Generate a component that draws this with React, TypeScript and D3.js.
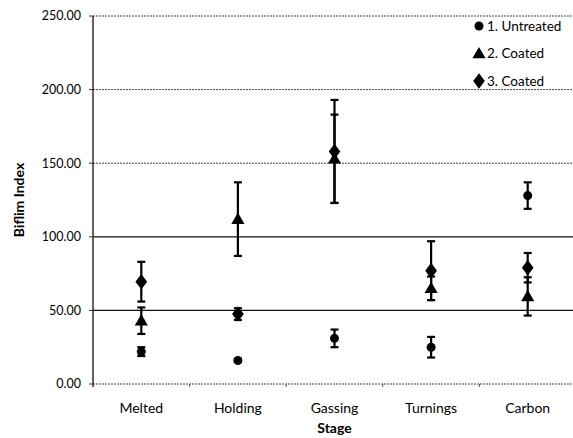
import React from "react";
import * as d3 from "d3";

const categories = ["Melted", "Holding", "Gassing", "Turnings", "Carbon"];
const seriesNames = ["1. Untreated", "2. Coated", "3. Coated"];
const untreatedVals = [22, 16, 31, 25, 128];
const untreatedErr = [3, 1, 6, 7, 9];
const coated2Vals = [43, 112, 153, 65, 59.5];
const coated2Err = [9, 25, 30, 8, 13];
const coated3Vals = [69.5, 47.5, 158, 77, 79];
const coated3Err = [13.5, 4, 35, 20, 10];
const yTicks = [0, 50, 100, 150, 200, 250];

const W = 573, H = 438;
const left = 93, right = 576, top = 16, bottom = 384;
const FONT = "Lato, 'Open Sans', sans-serif";

function Marker({ kind, x, y, s = 1 }: { kind: number; x: number; y: number; s?: number }) {
  if (kind === 0) return <circle cx={x} cy={y} r={4.5 * s} fill="#000" />;
  if (kind === 1) {
    const p = d3.symbol(d3.symbolTriangle, 75 * s * s)();
    return <path d={p || ""} transform={`translate(${x},${y + 1})`} fill="#000" />;
  }
  const p = d3.symbol(d3.symbolDiamond, 70 * s * s)();
  return <path d={p || ""} transform={`translate(${x},${y}) scale(1.3,1)`} fill="#000" />;
}

export default function App() {
  const x = d3.scaleBand<string>().domain(categories).range([left, right]);
  const y = d3.scaleLinear().domain([0, 250]).range([bottom, top]);
  const series = [
    { vals: untreatedVals, err: untreatedErr },
    { vals: coated2Vals, err: coated2Err },
    { vals: coated3Vals, err: coated3Err },
  ];
  const cx = (c: string) => (x(c) || 0) + x.bandwidth() / 2;
  return (
    <svg width={W} height={H} style={{ position: "absolute", left: 0, top: 0, background: "#fff" }}>
      {yTicks.map((t) => (
        <g key={t}>
          <line
            x1={left}
            x2={W}
            y1={y(t)}
            y2={y(t)}
            stroke={t === 50 || t === 100 ? "#111" : "#444"}
            strokeWidth={t === 50 || t === 100 ? 1.3 : 1}
            strokeDasharray={t === 50 || t === 100 ? undefined : "2,1"}
          />
          <line x1={left - 4} x2={left} y1={y(t)} y2={y(t)} stroke="#333" />
          <text x={81} y={y(t)} dy="0.35em" textAnchor="end" fontFamily={FONT} fontSize={12.5} fill="#000">
            {t.toFixed(2)}
          </text>
        </g>
      ))}
      <line x1={left} x2={left} y1={top} y2={bottom + 3} stroke="#222" strokeWidth={1.4} />
      {categories.map((c) => (
        <g key={c}>
          <line x1={(x(c) || 0) + x.bandwidth()} x2={(x(c) || 0) + x.bandwidth()} y1={bottom} y2={bottom + 3} stroke="#555" />
          <text x={cx(c)} y={413} textAnchor="middle" fontFamily={FONT} fontSize={14} fill="#000">
            {c}
          </text>
        </g>
      ))}
      {series.map((s, k) =>
        categories.map((c, i) => {
          const e = s.err[i];
          const v = s.vals[i];
          const xc = cx(c);
          return (
            <g key={`${k}-${c}`}>
              <line x1={xc} x2={xc} y1={y(v + e)} y2={y(v - e)} stroke="#000" strokeWidth={2.2} />
              <line x1={xc - 4} x2={xc + 4} y1={y(v + e)} y2={y(v + e)} stroke="#000" strokeWidth={2.2} />
              <line x1={xc - 4} x2={xc + 4} y1={y(v - e)} y2={y(v - e)} stroke="#000" strokeWidth={2.2} />
              <Marker kind={k} x={xc} y={y(v)} />
            </g>
          );
        })
      )}
      <text
        transform={`translate(24,200) rotate(-90)`}
        textAnchor="middle"
        fontFamily={FONT}
        fontWeight="bold"
        fontSize={14}
        fill="#000"
      >
        Biflim Index
      </text>
      <text x={(left + right) / 2} y={433} textAnchor="middle" fontFamily={FONT} fontWeight="bold" fontSize={14} fill="#000">
        Stage
      </text>
      {seriesNames.map((n, k) => (
        <g key={n}>
          <Marker kind={k} x={479} y={26 + k * 27.5} s={1} />
          <text x={487} y={26 + k * 27.5} dy="0.35em" fontFamily={FONT} fontSize={13.5} fill="#000">
            {n}
          </text>
        </g>
      ))}
    </svg>
  );
}
